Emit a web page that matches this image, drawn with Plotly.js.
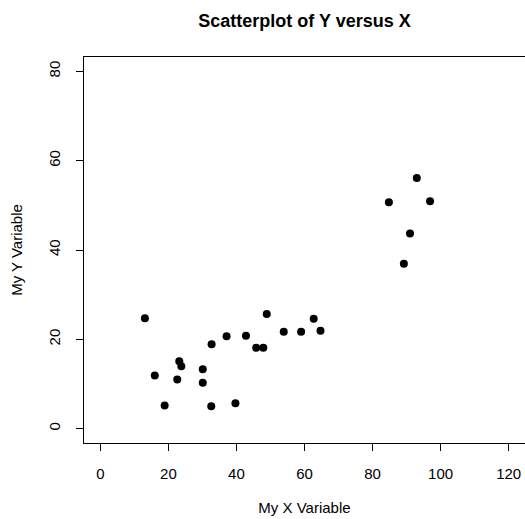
<!DOCTYPE html>
<html>
<head>
<meta charset="utf-8">
<script src="https://cdn.plot.ly/plotly-3.0.1.min.js"></script>
<style>html,body{margin:0;padding:0;background:#fff;}#chart{width:525px;height:519px;}</style>
</head>
<body>
<div id="chart"></div>
<script>
const xValues = [13.1, 16.0, 18.9, 23.2, 23.8, 22.6, 30.1, 30.1, 32.7, 32.6, 37.1, 39.7, 42.8, 45.8, 47.9, 48.9, 53.9, 59.0, 62.7, 64.7, 93.0, 84.8, 96.9, 91.0, 89.2];
const yValues = [24.7, 11.9, 5.2, 15.1, 14.0, 11.0, 13.3, 10.3, 18.9, 5.0, 20.7, 5.7, 20.8, 18.1, 18.1, 25.7, 21.7, 21.7, 24.6, 21.9, 56.1, 50.7, 50.9, 43.7, 36.9];
const xTicks = [0, 20, 40, 60, 80, 100, 120];
const yTicks = [0, 20, 40, 60, 80];

const font = "Liberation Sans, Arial, Helvetica, sans-serif";

const trace = {
  x: xValues, y: yValues, type: 'scatter', mode: 'markers',
  marker: {color: '#000', size: 8},
  hoverinfo: 'x+y'
};

const axisCommon = {
  showgrid: false, zeroline: false,
  showline: true, linecolor: '#000', linewidth: 1, mirror: true,
  ticks: 'outside', ticklen: 7, tickwidth: 1, tickcolor: '#000',
  tickfont: {family: font, size: 15, color: '#000'},
  tickmode: 'array'
};

const layout = {
  width: 525, height: 519,
  margin: {l: 84, r: 0, t: 57, b: 76, pad: 0},
  paper_bgcolor: '#fff', plot_bgcolor: '#fff',
  showlegend: false,
  font: {family: font, color: '#000'},
  title: {
    text: 'Scatterplot of Y versus X',
    font: {family: font, size: 18, color: '#000', weight: 'bold'},
    x: 0.5, xref: 'paper', xanchor: 'center',
    y: 1 - 20.5/519, yref: 'container', yanchor: 'middle'
  },
  xaxis: Object.assign({}, axisCommon, {
    range: [-4.8, 124.8],
    tickvals: xTicks, ticktext: xTicks.map(String),
    ticklabelstandoff: 10,
    title: {text: 'My X Variable', font: {family: font, size: 15, color: '#000'}, standoff: 21}
  }),
  yaxis: Object.assign({}, axisCommon, {
    range: [-3.2, 83.2],
    tickvals: yTicks, ticktext: yTicks.map(String),
    tickangle: -90,
    ticklabelstandoff: 10,
    title: {text: 'My Y Variable', font: {family: font, size: 15, color: '#000'}, standoff: 19}
  })
};

Plotly.newPlot('chart', [trace], layout, {displayModeBar: false, staticPlot: true});
</script>
</body>
</html>
